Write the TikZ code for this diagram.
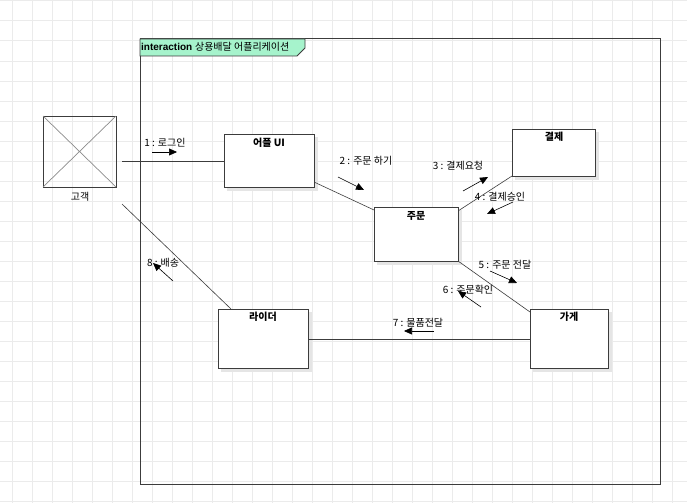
\documentclass[tikz,border=0pt]{standalone}
\usepackage{fontspec}
\setmainfont{Liberation Sans}
\newfontfamily\kr{Noto Sans CJK KR}
\usetikzlibrary{arrows.meta}
\definecolor{gridc}{RGB}{235,235,235}
\definecolor{tabc}{RGB}{166,243,204}
\definecolor{linec}{RGB}{60,60,60}
\tikzset{
  box/.style={draw=linec, line width=0.9pt, fill=white},
  shad/.style={fill=black!10, draw=none},
  ttl/.style={font=\kr\fontsize{10}{12}\selectfont\bfseries, anchor=center, inner sep=0pt},
  msg/.style={font=\kr\fontsize{10}{12}\selectfont, anchor=center, inner sep=0pt},
  link/.style={draw=linec, line width=0.6pt},
  marr/.style={draw=black, line width=0.6pt, -{Triangle[length=8pt,width=7pt]}}
}
\begin{document}
\begin{tikzpicture}[x=1pt,y=-1pt]
\useasboundingbox (0,0) rectangle (687,503);
\fill[white] (0,0) rectangle (687,503);
% grid
\foreach \gx in {12.5,32.5,...,687} {\draw[gridc, line width=1pt] (\gx,0) -- (\gx,503);}
\foreach \gy in {1,21,...,503} {\draw[gridc, line width=1pt] (0,\gy) -- (687,\gy);}
% frame
\draw[linec, line width=1pt] (140,39) rectangle (660,484);
\draw[linec, line width=0.8pt, fill=tabc] (140,39) -- (305,39) -- (305,48) -- (297,56) -- (140,56) -- cycle;
\node[anchor=west, inner sep=0pt, font=\fontsize{10}{12}\selectfont] (tabtxt) at (141,47) {\textbf{interaction} {\kr 상용배달 어플리케이션}};
% actor
\draw[linec, line width=1pt] (43,116) rectangle (116,187);
\draw[black!45, line width=0.7pt] (43,116) -- (116,187) (116,116) -- (43,187);
\coordinate (actorR) at (122,161);
\coordinate (actorB) at (122,204);
\node[msg] (custlbl) at (80,197) {고객};
% shadows
\fill[shad] (227,137) rectangle (318,191);
\fill[shad] (377,210) rectangle (462,265);
\fill[shad] (515,132) rectangle (599,180);
\fill[shad] (533,312) rectangle (612,372);
\fill[shad] (221,312) rectangle (312,372);
% connectors (drawn before boxes)
\coordinate (uiL) at (224,161);
\draw[link] (actorR) -- (uiL);
\coordinate (uiBR) at (314,182);
\coordinate (ordTL) at (374,210);
\draw[link] (uiBR) -- (ordTL);
\coordinate (ordTR) at (458,211);
\coordinate (payBL) at (512,176);
\draw[link] (ordTR) -- (payBL);
\coordinate (ordBR) at (458,261);
\coordinate (stTL) at (530,312);
\draw[link] (ordBR) -- (stTL);
\coordinate (stL) at (530,339);
\coordinate (ridR) at (308,339);
\draw[link] (stL) -- (ridR);
\coordinate (ridT) at (231,309);
\draw[link] (ridT) -- (actorB);
% boxes
\draw[box] (224,134) rectangle (314,187);
\node[ttl] (ui) at (269,143) {어플 UI};
\draw[box] (374,207) rectangle (458,261);
\node[ttl] (ord) at (416,216) {주문};
\draw[box] (512,129) rectangle (595,176);
\node[ttl] (pay) at (554,137) {결제};
\draw[box] (530,309) rectangle (608,368);
\node[ttl] (store) at (569,317) {가게};
\draw[box] (218,309) rectangle (308,368);
\node[ttl] (rider) at (263,317) {라이더};
% messages
\node[msg] (m1) at (165,143) {1 : 로그인};
\coordinate (a1s) at (152,152); \coordinate (a1e) at (177,152);
\draw[marr] (a1s) -- (a1e);
\node[msg] (m2) at (366,161) {2 : 주문 하기};
\coordinate (a2s) at (338,177); \coordinate (a2e) at (364,190);
\draw[marr] (a2s) -- (a2e);
\node[msg] (m3) at (458,166) {3 : 결제요청};
\coordinate (a3s) at (463,191); \coordinate (a3e) at (488,177);
\draw[marr] (a3s) -- (a3e);
\node[msg] (m4) at (500,197) {4 : 결제승인};
\coordinate (a4s) at (513,202); \coordinate (a4e) at (487,214);
\draw[marr] (a4s) -- (a4e);
\node[msg] (m5) at (505,265) {5 : 주문 전달};
\coordinate (a5s) at (490,271); \coordinate (a5e) at (517,283);
\draw[marr] (a5s) -- (a5e);
\node[msg] (m6) at (468,290) {6 : 주문확인};
\coordinate (a6s) at (481,307); \coordinate (a6e) at (458,291);
\draw[marr] (a6s) -- (a6e);
\node[msg] (m7) at (418,323) {7 : 물품전달};
\coordinate (a7s) at (434,331); \coordinate (a7e) at (404,331);
\draw[marr] (a7s) -- (a7e);
\node[msg] (m8) at (163,263) {8 : 배송};
\coordinate (a8s) at (173,281); \coordinate (a8e) at (153,263);
\draw[marr] (a8s) -- (a8e);
\end{tikzpicture}
\end{document}
